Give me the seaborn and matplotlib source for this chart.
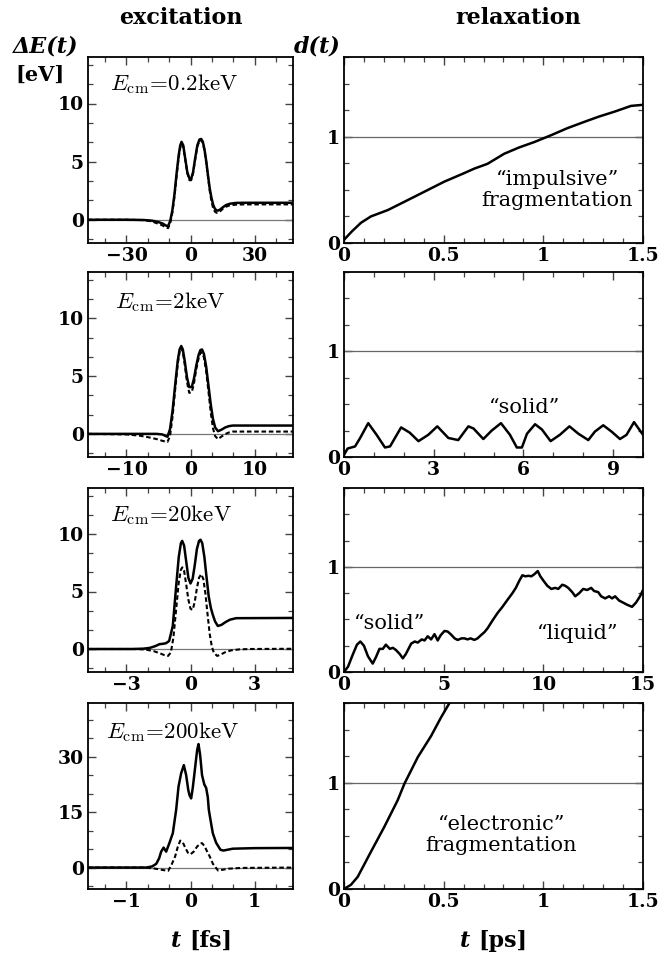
import numpy as np
import pandas as pd
import matplotlib
matplotlib.use("Agg")
import matplotlib.pyplot as plt
from matplotlib.ticker import MultipleLocator, FuncFormatter
import seaborn as sns

# ---------------- excitation: energy transfer Delta E(t) [eV] vs t [fs] ----------------
energies = ["0.2", "2", "20", "200"]

t_02 = [-48, -30, -22, -18, -15, -13, -11.5, -10.5, -9.5, -8.5, -7.5, -6.5, -5.5, -4.8, -4.2,
        -3.4, -2.5, -1.5, -0.5, 0.3, 1.2, 2.2, 3.2, 4.2, 5.0, 5.8, 6.6, 7.4, 8.2, 9.0, 9.8,
        10.6, 11.4, 12.2, 13.1, 14.0, 15.2, 16.7, 18.5, 21.4, 25, 48]
e_tot_02 = [0, 0, -0.02, -0.08, -0.2, -0.33, -0.5, -0.55, -0.1, 0.8, 2.2, 4.0, 5.6, 6.4, 6.7,
            6.4, 5.3, 4.1, 3.55, 3.5, 4.1, 5.3, 6.4, 6.9, 6.95, 6.7, 6.0, 5.0, 3.8, 2.7, 1.9,
            1.3, 0.95, 0.8, 0.8, 0.9, 1.08, 1.27, 1.38, 1.45, 1.46, 1.46]
e_el_02 = [0, 0, -0.03, -0.15, -0.35, -0.5, -0.68, -0.72, -0.3, 0.6, 2.0, 3.8, 5.4, 6.2, 6.55,
           6.3, 5.2, 4.0, 3.4, 3.4, 4.0, 5.2, 6.3, 6.8, 6.85, 6.6, 5.9, 4.9, 3.7, 2.5, 1.6,
           1.0, 0.7, 0.6, 0.62, 0.75, 0.95, 1.13, 1.24, 1.3, 1.32, 1.32]

t_2 = [-16, -10, -8, -6.5, -5.3, -4.4, -3.6, -3.2, -2.8, -2.4, -2.0, -1.7, -1.45, -1.2, -0.9,
       -0.55, -0.2, 0.2, 0.55, 0.9, 1.25, 1.55, 1.8, 2.1, 2.45, 2.8, 3.15, 3.5, 3.85, 4.3,
       4.8, 5.4, 6.0, 6.6, 16]
e_tot_2 = [0, 0, 0, 0, 0, -0.05, -0.25, 0.4, 2.0, 4.2, 6.3, 7.3, 7.6, 7.3, 6.3,
           4.9, 4.05, 4.05, 4.8, 5.9, 6.8, 7.25, 7.3, 6.9, 5.8, 4.2, 2.6, 1.3, 0.55, 0.23,
           0.35, 0.55, 0.67, 0.72, 0.72]
e_el_2 = [0, -0.05, -0.15, -0.3, -0.45, -0.6, -0.7, -0.2, 1.5, 3.8, 6.0, 7.1, 7.45, 7.1, 6.0,
          4.5, 3.55, 3.6, 4.4, 5.6, 6.5, 7.0, 7.05, 6.6, 5.4, 3.7, 1.9, 0.5, -0.2, -0.45,
          -0.25, -0.02, 0.12, 0.2, 0.2]

t_tot_20 = [-4.8, -2.7, -2.2, -1.9, -1.65, -1.45, -1.3, -1.15, -1.0, -0.83, -0.67, -0.55, -0.45,
            -0.39, -0.3, -0.2, -0.1, 0.0, 0.1, 0.2, 0.3, 0.4, 0.47, 0.55, 0.65, 0.73, 0.85,
            0.95, 1.04, 1.15, 1.28, 1.45, 1.65, 1.85, 2.14, 4.8]
e_tot_20 = [0, 0, 0.03, 0.1, 0.25, 0.42, 0.45, 0.5, 0.7, 2.0, 5.5, 8.0, 9.2,
            9.4, 9.0, 7.6, 6.2, 5.7, 6.1, 7.3, 8.7, 9.4, 9.5, 9.2, 8.0, 6.6, 4.6,
            3.6, 3.0, 2.4, 2.0, 2.1, 2.35, 2.55, 2.68, 2.7]
t_el_20 = [-4.8, -2.6, -2.1, -1.7, -1.4, -1.2, -1.05, -0.92, -0.8, -0.67, -0.55, -0.45, -0.38,
           -0.3, -0.2, -0.1, 0.0, 0.1, 0.2, 0.3, 0.4, 0.5, 0.6, 0.7, 0.8, 0.9, 1.0, 1.1,
           1.25, 1.4, 1.6, 1.9, 2.3, 2.8, 4.8]
e_el_20 = [0, 0, -0.05, -0.2, -0.4, -0.55, -0.6, -0.3, 1.0, 3.5, 5.8, 6.9, 7.1,
           6.8, 5.6, 4.3, 3.5, 3.4, 4.1, 5.3, 6.2, 6.5, 6.1, 4.8, 3.0, 1.3, 0.2, -0.35,
           -0.6, -0.5, -0.3, -0.12, -0.03, 0.0, 0.02]

t_tot_200 = [-1.6, -0.69, -0.6, -0.535, -0.49, -0.458, -0.42, -0.38, -0.33, -0.276, -0.224,
             -0.187, -0.146, -0.104, -0.068, -0.035, -0.016, 0.01, 0.035, 0.062, 0.085, 0.104,
             0.125, 0.15, 0.18, 0.215, 0.245, 0.27, 0.286, 0.312, 0.348, 0.40, 0.468, 0.515,
             0.66, 1.0, 1.6]
e_tot_200 = [0, 0, 0.3, 1.0, 2.5, 4.3, 5.4, 4.3, 6.6, 9.3, 15.6,
             21.9, 25.5, 27.7, 25.0, 21.0, 19.6, 18.7, 21.5, 25.5, 29.0, 31.8,
             33.4, 30.5, 25.0, 22.5, 21.5, 19.0, 15.6, 12.9, 9.3, 6.7, 4.8, 4.6,
             5.1, 5.25, 5.3]
t_el_200 = [-1.6, -0.7, -0.55, -0.45, -0.35, -0.3, -0.24, -0.2, -0.16, -0.12, -0.08, -0.04,
            0.0, 0.05, 0.1, 0.15, 0.18, 0.22, 0.26, 0.3, 0.35, 0.43, 0.5, 0.6, 0.8, 1.6]
e_el_200 = [0, 0, -0.3, -0.6, -0.9, 0.6, 3.0, 5.5, 7.3, 6.8, 5.3, 4.0,
            3.6, 4.3, 5.6, 6.5, 6.6, 5.8, 4.3, 3.0, 1.0, -0.8, -0.6, -0.3, -0.1, 0]

# ---------------- relaxation: deformation d(t) vs t [ps] ----------------
t_imp = [0, 0.04, 0.085, 0.135, 0.22, 0.353, 0.503, 0.6, 0.654, 0.72, 0.804, 0.88, 0.955,
         1.04, 1.12, 1.206, 1.28, 1.356, 1.44, 1.5]
d_imp = [0.03, 0.11, 0.19, 0.25, 0.31, 0.435, 0.577, 0.655, 0.70, 0.745, 0.84, 0.9, 0.95,
         1.015, 1.08, 1.14, 1.19, 1.235, 1.29, 1.30]

t_sol = [0, 0.12, 0.37, 0.54, 0.81, 1.09, 1.37, 1.54, 1.91, 2.2, 2.49, 2.82, 3.12, 3.49, 3.82,
         4.16, 4.33, 4.66, 4.94, 5.25, 5.55, 5.78, 5.95, 6.12, 6.39, 6.62, 6.91, 7.22, 7.54,
         7.84, 8.17, 8.39, 8.67, 8.95, 9.23, 9.45, 9.7, 10.0]
d_sol = [0.02, 0.08, 0.10, 0.18, 0.32, 0.21, 0.09, 0.10, 0.28, 0.23, 0.15, 0.21, 0.29, 0.18,
         0.16, 0.29, 0.27, 0.17, 0.25, 0.32, 0.21, 0.09, 0.09, 0.22, 0.31, 0.26, 0.15, 0.21,
         0.29, 0.22, 0.16, 0.24, 0.30, 0.24, 0.17, 0.21, 0.33, 0.21]

t_liq = [0, 0.2, 0.45, 0.65, 0.82, 1.0, 1.2, 1.44, 1.6, 1.78, 1.95, 2.1, 2.3, 2.45, 2.6, 2.8,
         2.95, 3.1, 3.37, 3.55, 3.7, 3.9, 4.04, 4.2, 4.37, 4.54, 4.7, 4.85, 5.04, 5.2, 5.35,
         5.55, 5.7, 5.9, 6.04, 6.2, 6.35, 6.54, 6.7, 6.87, 7.05, 7.2, 7.45, 7.7, 7.95, 8.2,
         8.45, 8.62, 8.8, 8.95, 9.1, 9.25, 9.4, 9.55, 9.72, 9.85, 10.0, 10.2, 10.4, 10.6,
         10.75, 10.95, 11.1, 11.25, 11.45, 11.6, 11.8, 12.0, 12.2, 12.4, 12.55, 12.75, 12.9,
         13.1, 13.3, 13.45, 13.6, 13.8, 14.0, 14.2, 14.45, 14.65, 14.85, 15.0]
d_liq = [0.0, 0.05, 0.17, 0.26, 0.29, 0.25, 0.15, 0.08, 0.14, 0.22, 0.22, 0.26, 0.22, 0.23,
         0.21, 0.17, 0.13, 0.17, 0.27, 0.29, 0.28, 0.31, 0.30, 0.34, 0.31, 0.36, 0.30, 0.35,
         0.39, 0.385, 0.36, 0.32, 0.305, 0.32, 0.32, 0.31, 0.32, 0.305, 0.32, 0.35, 0.38,
         0.415, 0.49, 0.56, 0.62, 0.686, 0.75, 0.80, 0.87, 0.92, 0.91, 0.915, 0.91, 0.93,
         0.96, 0.91, 0.87, 0.82, 0.79, 0.80, 0.79, 0.83, 0.82, 0.80, 0.76, 0.72, 0.75, 0.79,
         0.78, 0.80, 0.77, 0.76, 0.72, 0.70, 0.72, 0.70, 0.72, 0.68, 0.66, 0.64, 0.62, 0.66,
         0.72, 0.78]

t_ele = [0, 0.035, 0.069, 0.135, 0.202, 0.269, 0.303, 0.37, 0.437, 0.487, 0.528, 0.56]
d_ele = [0, 0.04, 0.115, 0.35, 0.584, 0.834, 0.99, 1.24, 1.44, 1.615, 1.746, 1.84]

# axis settings per row
left_xlim = [48, 16, 4.8, 1.6]
left_xmajor = [30, 10, 3, 1]
left_ylim = [(-2, 14), (-2, 14), (-2, 14), (-5.8, 44.5)]
left_ymajor = [5, 5, 5, 15]
right_xlim = [1.5, 10, 15, 1.5]
right_xmajor = [0.5, 3, 5, 0.5]
right_xminor = [0.1, 1, 1, 0.1]

sns.set_theme(style="ticks")
plt.rcParams.update({
    "mathtext.fontset": "cm",
    "axes.linewidth": 1.3,
    "axes.edgecolor": "black",
    "text.color": "black",
    "axes.labelcolor": "black",
    "xtick.labelcolor": "black",
    "ytick.labelcolor": "black",
    "font.weight": "bold",
    "font.family": ["DejaVu Serif"],
})

W, H = 662, 959
fig = plt.figure(figsize=(W / 100, H / 100), dpi=100)

rows_px = [(57, 243), (272, 457), (488, 672), (703, 889)]
left_px = (88, 293)
right_px = (344, 643)


def make_ax(xpx, ypx):
    return fig.add_axes([xpx[0] / W, 1 - ypx[1] / H, (xpx[1] - xpx[0]) / W, (ypx[1] - ypx[0]) / H])


num_fmt = FuncFormatter(lambda v, p: ("%g" % round(v, 6)).replace("-", "\u2212"))


def style_axis(ax):
    ax.tick_params(which="both", direction="in", top=True, right=True, colors="#444",
                   labelcolor="black", labelsize=13.5)
    ax.tick_params(which="major", length=6, width=1.0, pad=3)
    ax.tick_params(which="minor", length=3.5, width=0.9)
    ax.xaxis.set_major_formatter(num_fmt)
    ax.yaxis.set_major_formatter(num_fmt)
    for s in ax.spines.values():
        s.set_linewidth(1.3)
        s.set_color("black")


dash = (0, (2.2, 1.3))
excitation = [
    (t_02, e_tot_02, t_02, e_el_02),
    (t_2, e_tot_2, t_2, e_el_2),
    (t_tot_20, e_tot_20, t_el_20, e_el_20),
    (t_tot_200, e_tot_200, t_el_200, e_el_200),
]
label_pos = [(0.105, 0.855), (0.13, 0.84), (0.107, 0.853), (0.09, 0.846)]

for i, (ta, ea, tb, eb) in enumerate(excitation):
    ax = make_ax(left_px, rows_px[i])
    ax.axhline(0, color="#777", lw=0.9, zorder=1)
    sns.lineplot(x=tb, y=eb, ax=ax, color="black", lw=1.5, linestyle=dash,
                 estimator=None, sort=False, zorder=2)
    sns.lineplot(x=ta, y=ea, ax=ax, color="black", lw=1.8,
                 estimator=None, sort=False, zorder=3)
    ax.set_xlim(-left_xlim[i], left_xlim[i])
    ax.set_ylim(*left_ylim[i])
    ax.xaxis.set_major_locator(MultipleLocator(left_xmajor[i]))
    ax.xaxis.set_minor_locator(MultipleLocator(left_xmajor[i] / 3))
    ax.yaxis.set_major_locator(MultipleLocator(left_ymajor[i]))
    ax.yaxis.set_minor_locator(MultipleLocator(left_ymajor[i] / 3))
    style_axis(ax)
    ax.set_xlabel("")
    ax.set_ylabel("")
    ax.text(*label_pos[i], r"$E_{\rm cm}\!=\!%s{\rm keV}$" % energies[i], transform=ax.transAxes,
            ha="left", va="center", fontsize=16.5)

note_kw = dict(ha="center", va="center", fontsize=15, fontweight="normal", linespacing=1.15)
relaxation = [(t_imp, d_imp), (t_sol, d_sol), (t_liq, d_liq), (t_ele, d_ele)]
for i, (tx, dy) in enumerate(relaxation):
    ax = make_ax(right_px, rows_px[i])
    ax.axhline(1, color="#666", lw=0.9, zorder=1)
    sns.lineplot(x=tx, y=dy, ax=ax, color="black", lw=1.8, estimator=None, sort=False, zorder=3)
    ax.set_xlim(0, right_xlim[i])
    ax.set_ylim(0, 1.75)
    ax.xaxis.set_major_locator(MultipleLocator(right_xmajor[i]))
    ax.xaxis.set_minor_locator(MultipleLocator(right_xminor[i]))
    ax.yaxis.set_major_locator(MultipleLocator(1))
    ax.yaxis.set_minor_locator(MultipleLocator(0.25))
    style_axis(ax)
    ax.set_xlabel("")
    ax.set_ylabel("")
    if i == 0:
        ax.text(1.07, 0.50, "\u201cimpulsive\u201d\nfragmentation", **note_kw)
    elif i == 1:
        ax.text(6.05, 0.47, "\u201csolid\u201d", **note_kw)
    elif i == 2:
        ax.text(2.27, 0.46, "\u201csolid\u201d", **note_kw)
        ax.text(11.72, 0.37, "\u201cliquid\u201d", **note_kw)
    else:
        ax.text(0.79, 0.51, "\u201celectronic\u201d\nfragmentation", **note_kw)

# column headings and axis captions
fig.text(181 / W, 1 - 18 / H, "excitation", ha="center", va="center", fontsize=16)
fig.text(518 / W, 1 - 18 / H, "relaxation", ha="center", va="center", fontsize=16)
fig.text(46 / W, 1 - 47 / H, "\u0394E(t)", ha="center", va="center", fontsize=16,
         fontstyle="italic")
fig.text(40 / W, 1 - 75 / H, "[eV]", ha="center", va="center", fontsize=15)
fig.text(317 / W, 1 - 47 / H, "d(t)", ha="center", va="center", fontsize=16,
         fontstyle="italic")
for xc, unit in [(191, "[fs]"), (480, "[ps]")]:
    fig.text((xc - 10) / W, 1 - 941 / H, "t", ha="right", va="center", fontsize=16,
             fontstyle="italic")
    fig.text((xc - 2) / W, 1 - 941 / H, unit, ha="left", va="center", fontsize=16)

fig.savefig("out.png", dpi=100)
